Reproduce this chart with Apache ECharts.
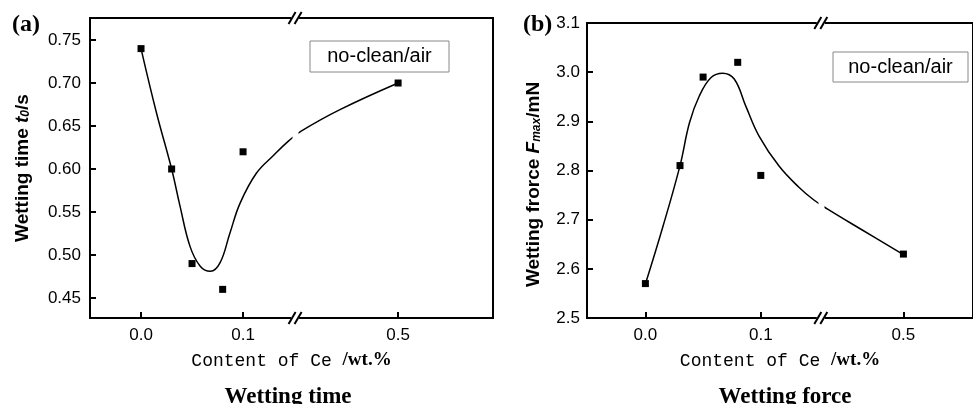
<!DOCTYPE html>
<html><head><meta charset="utf-8">
<script src="https://cdn.jsdelivr.net/npm/echarts@6/dist/echarts.min.js"></script>
<style>html,body{margin:0;padding:0;background:#fff}#c{width:973px;height:404px}</style>
</head><body><div id="c"></div>
<script>
// ---- data ----
const ceContent = [0, 0.03, 0.05, 0.08, 0.1, 0.5];
const wettingTime = [0.74, 0.60, 0.49, 0.46, 0.62, 0.70];
const wettingForce = [2.57, 2.81, 2.99, 3.02, 2.79, 2.63];
// fitted curves
const timeCurveX = [0, 0.015, 0.03, 0.038, 0.048, 0.058, 0.068, 0.0775, 0.087, 0.097, 0.113, 0.130, 0.145, 0.405, 0.443, 0.5];
const timeCurveY = [0.74, 0.666, 0.60, 0.558, 0.510, 0.487, 0.481, 0.491, 0.525, 0.560, 0.595, 0.616, 0.633, 0.644, 0.669, 0.70];
const forceCurveX = [0, 0.0152, 0.03, 0.0382, 0.0468, 0.0569, 0.0669, 0.077, 0.087, 0.0985, 0.1158, 0.133, 0.146, 0.434, 0.4636, 0.5];
const forceCurveY = [2.569, 2.686, 2.81, 2.897, 2.952, 2.989, 2.998, 2.986, 2.931, 2.870, 2.809, 2.766, 2.740, 2.722, 2.680, 2.629];
const xTickValues = [0, 0.1, 0.5];
const timeTickValues = [0.45, 0.50, 0.55, 0.60, 0.65, 0.70, 0.75];
const legendText = 'no-clean/air';

const SANS = 'Liberation Sans';
const chart = echarts.init(document.getElementById('c'));

function xAxisCfg(gi, min, max, bs, be, gap) {
  return {
    gridIndex: gi, type: 'value', min: min, max: max,
    breaks: [{ start: bs, end: be, gap: gap }],
    breakArea: { show: true, expandOnClick: false, zigzagAmplitude: 0, zigzagZ: 100,
      itemStyle: { color: '#fff', opacity: 1, borderWidth: 0, borderColor: '#fff' } },
    axisLine: { show: true, onZero: false, lineStyle: { color: '#000', width: 2 } },
    axisTick: { show: true, inside: true, length: 6, customValues: xTickValues, lineStyle: { color: '#000', width: 2 } },
    axisLabel: { customValues: xTickValues, formatter: v => v.toFixed(1), color: '#000', fontSize: 17, fontFamily: SANS, margin: 9 },
    splitLine: { show: false },
    name: '{m|Content of Ce }{w|/wt.%}', nameLocation: 'middle', nameGap: 33,
    nameTextStyle: { rich: {
      m: { fontFamily: 'Liberation Mono', fontSize: 18, color: '#000', verticalAlign: 'bottom' },
      w: { fontFamily: 'Liberation Serif', fontWeight: 'bold', fontSize: 19, color: '#000', verticalAlign: 'bottom' } } }
  };
}
function yAxisCfg(gi, min, max, opts) {
  return Object.assign({
    gridIndex: gi, type: 'value', min: min, max: max,
    axisLine: { show: true, onZero: false, lineStyle: { color: '#000', width: 2 } },
    axisTick: { show: true, inside: true, length: 6, lineStyle: { color: '#000', width: 2 } },
    axisLabel: { color: '#000', fontSize: 17, fontFamily: SANS, margin: 8 },
    splitLine: { show: false },
    nameLocation: 'middle', nameRotate: 90
  }, opts);
}
const nameRich = {
  b: { fontFamily: SANS, fontWeight: 'bold', fontSize: 19, color: '#000', verticalAlign: 'bottom' },
  i: { fontFamily: SANS, fontWeight: 'bold', fontStyle: 'italic', fontSize: 19, color: '#000', verticalAlign: 'bottom' },
  s: { fontFamily: SANS, fontWeight: 'bold', fontStyle: 'italic', fontSize: 12, color: '#000', verticalAlign: 'bottom' }
};

const option = {
  animation: false,
  backgroundColor: '#fff',
  grid: [
    { left: 90, top: 18, width: 403, height: 300, show: true, borderColor: '#000', borderWidth: 2 },
    { left: 587, top: 23, width: 388, height: 295, show: true, borderColor: '#000', borderWidth: 2 }
  ],
  xAxis: [
    xAxisCfg(0, -0.05, 0.593, 0.148, 0.402, '1.5%'),
    xAxisCfg(1, -0.0506, 0.5603, 0.1494, 0.431, '1.55%')
  ],
  yAxis: [
    yAxisCfg(0, 0.4267, 0.7756, {
      axisTick: { show: true, inside: true, length: 6, customValues: timeTickValues, lineStyle: { color: '#000', width: 2 } },
      axisLabel: { customValues: timeTickValues, formatter: v => v.toFixed(2), color: '#000', fontSize: 17, fontFamily: SANS, margin: 9 },
      name: '{b|Wetting time }{i|t}{s|0}{b|/s}', nameGap: 58, nameTextStyle: { rich: nameRich }
    }),
    yAxisCfg(1, 2.5, 3.1, {
      interval: 0.1,
      axisLabel: { formatter: v => v.toFixed(1), color: '#000', fontSize: 17, fontFamily: SANS, margin: 7 },
      name: '{b|Wetting frorce }{i|F}{s|max}{b|/mN}', nameGap: 44,
      nameTextStyle: { rich: nameRich, padding: [0, 28, 0, 0] }
    })
  ],
  series: [
    { type: 'line', xAxisIndex: 0, yAxisIndex: 0, data: timeCurveX.map((x, i) => [x, timeCurveY[i]]),
      smooth: 0.4, showSymbol: false, lineStyle: { color: '#000', width: 1.5 }, z: 2 },
    { type: 'scatter', xAxisIndex: 0, yAxisIndex: 0, data: ceContent.map((x, i) => [x, wettingTime[i]]),
      symbol: 'rect', symbolSize: 7, itemStyle: { color: '#000', opacity: 1 }, z: 5 },
    { type: 'line', xAxisIndex: 1, yAxisIndex: 1, data: forceCurveX.map((x, i) => [x, forceCurveY[i]]),
      smooth: 0.4, showSymbol: false, lineStyle: { color: '#000', width: 1.5 }, z: 2 },
    { type: 'scatter', xAxisIndex: 1, yAxisIndex: 1, data: ceContent.map((x, i) => [x, wettingForce[i]]),
      symbol: 'rect', symbolSize: 7, itemStyle: { color: '#000', opacity: 1 }, z: 5 }
  ]
};
chart.setOption(option);

// decorations: break marks, legend boxes, titles
function breakMarks(gi, bs, be, yMin, yMax) {
  const x0 = chart.convertToPixel({ xAxisIndex: gi }, bs);
  const x1 = chart.convertToPixel({ xAxisIndex: gi }, be);
  const cx = (x0 + x1) / 2;
  const yb = chart.convertToPixel({ yAxisIndex: gi }, yMin);
  const yt = chart.convertToPixel({ yAxisIndex: gi }, yMax);
  const els = [];
  [yb, yt].forEach(y => {
    els.push({ type: 'rect', shape: { x: cx - 4, y: y - 3, width: 8, height: 6 }, style: { fill: '#fff' }, z: 200 });
    [-3, 3].forEach(d => {
      els.push({ type: 'line', shape: { x1: cx + d - 3.5, y1: y + 6, x2: cx + d + 3.5, y2: y - 6 },
        style: { stroke: '#000', lineWidth: 2 }, z: 201 });
    });
  });
  return els;
}
function legendBox(x, y, w, h) {
  return [
    { type: 'rect', shape: { x: x, y: y, width: w, height: h }, style: { fill: '#fff', stroke: '#888', lineWidth: 1 }, z: 100 },
    { type: 'text', x: x + w / 2, y: y + h / 2, z: 101,
      style: { text: legendText, fontFamily: SANS, fontSize: 20, fill: '#000', align: 'center', verticalAlign: 'middle', textAlign: 'center', textVerticalAlign: 'middle' } }
  ];
}
function label(text, x, y, size, align) {
  return { type: 'text', x: x, y: y, z: 100,
    style: { text: text, fontFamily: 'Liberation Serif', fontWeight: 'bold', fontSize: size, fill: '#000',
      align: align, verticalAlign: 'top', textAlign: align, textVerticalAlign: 'top' } };
}
const graphics = [].concat(
  breakMarks(0, 0.148, 0.402, 0.4267, 0.7756),
  breakMarks(1, 0.1494, 0.431, 2.5, 3.1),
  legendBox(310, 41, 139, 31),
  legendBox(833, 52, 135, 30),
  [label('(a)', 12, 13, 24, 'left'), label('(b)', 523, 13, 24, 'left'),
   label('Wetting time', 288, 386, 23, 'center'), label('Wetting force', 785, 386, 23, 'center')]
);
chart.setOption({ graphic: graphics });
</script>
</body></html>
